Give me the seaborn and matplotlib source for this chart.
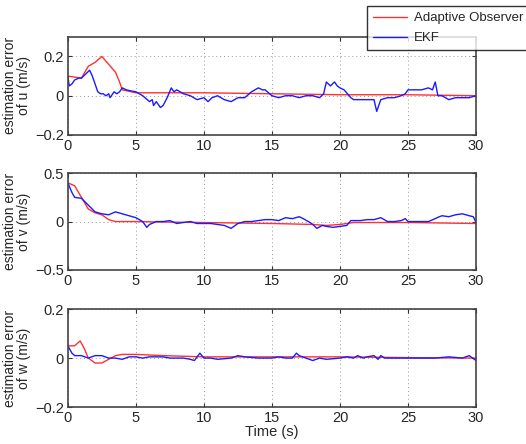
import numpy as np
import pandas as pd
import matplotlib
matplotlib.use("Agg")
import matplotlib.pyplot as plt
import seaborn as sns

sns.set_style("ticks")
plt.rcParams['font.family'] = ['Liberation Sans', 'DejaVu Sans']

# ---- data: u ----
u_ekf_t = [0, 0.1, 0.3, 0.5, 0.8, 1.0, 1.3, 1.6, 1.8, 2.0, 2.2, 2.4, 2.6, 2.8, 3.0, 3.1, 3.2, 3.4, 3.6, 3.8, 4.0, 4.3, 4.6, 5.0, 5.5, 6.0, 6.2, 6.3, 6.5, 6.8, 7.0, 7.3, 7.6, 7.8, 8.0, 8.5, 9.0, 9.5, 10.0, 10.3, 10.6, 11.0, 11.5, 12.0, 12.5, 13.0, 13.5, 14.0, 14.3, 14.5, 15.0, 15.5, 16.0, 16.5, 17.0, 17.5, 18.0, 18.5, 18.8, 19.0, 19.3, 19.6, 19.8, 20.0, 20.3, 20.8, 21.0, 21.5, 22.0, 22.5, 22.7, 23.0, 23.5, 24.0, 24.5, 24.8, 25.0, 25.5, 26.0, 26.5, 26.8, 27.0, 27.2, 27.5, 28.0, 28.5, 29.0, 29.5, 30.0]
u_ekf = [0.1, 0.05, 0.06, 0.08, 0.09, 0.09, 0.11, 0.13, 0.1, 0.06, 0.02, 0.01, 0.01, 0.0, 0.01, -0.01, 0.0, 0.02, 0.01, 0.02, 0.04, 0.03, 0.025, 0.02, 0.0, -0.03, -0.02, -0.05, -0.03, -0.06, -0.05, -0.01, 0.04, 0.02, 0.03, 0.01, 0.0, -0.02, -0.01, -0.03, -0.01, 0.0, -0.02, -0.03, -0.01, -0.01, 0.02, 0.04, 0.03, 0.03, 0.0, -0.01, 0.0, 0.0, -0.01, 0.0, 0.0, -0.01, 0.01, 0.07, 0.05, 0.07, 0.05, 0.04, 0.03, -0.01, -0.02, -0.02, -0.02, -0.02, -0.08, -0.02, -0.01, -0.01, 0.0, 0.01, 0.03, 0.03, 0.03, 0.04, 0.03, 0.07, 0.0, 0.0, -0.02, -0.01, -0.01, -0.01, 0.0]
u_obs_t = [0, 0.5, 1.0, 1.5, 2.0, 2.5, 3.0, 3.5, 3.8, 4.0, 5.0, 10.0, 15.0, 20.0, 25.0, 30.0]
u_obs = [0.1, 0.095, 0.09, 0.15, 0.17, 0.2, 0.16, 0.12, 0.07, 0.03, 0.015, 0.015, 0.01, 0.005, 0.005, 0.0]

# ---- data: v ----
v_ekf_t = [0, 0.3, 0.5, 1.0, 1.5, 2.0, 2.5, 3.0, 3.5, 4.0, 4.5, 5.0, 5.5, 5.8, 6.0, 6.5, 7.0, 7.5, 8.0, 8.5, 9.0, 9.5, 10.0, 10.5, 11.0, 11.5, 12.0, 12.5, 13.0, 13.5, 14.0, 14.5, 15.0, 15.5, 16.0, 16.5, 17.0, 17.3, 17.8, 18.0, 18.3, 18.7, 19.0, 19.5, 20.0, 20.5, 20.8, 21.0, 21.5, 22.0, 22.5, 23.0, 23.5, 24.0, 24.5, 24.8, 25.0, 25.5, 26.0, 26.5, 27.0, 27.3, 27.5, 28.0, 28.5, 29.0, 29.5, 29.8, 30.0]
v_ekf = [0.4, 0.3, 0.25, 0.24, 0.17, 0.1, 0.08, 0.07, 0.1, 0.08, 0.06, 0.04, 0.0, -0.06, -0.03, 0.0, 0.0, 0.01, -0.02, -0.01, 0.0, -0.02, -0.02, -0.02, -0.03, -0.04, -0.07, -0.02, 0.0, 0.0, 0.01, 0.02, 0.02, 0.01, 0.04, 0.03, 0.05, 0.03, -0.01, -0.03, -0.07, -0.04, -0.05, -0.06, -0.05, -0.04, 0.01, 0.01, 0.01, 0.02, 0.02, 0.04, 0.0, 0.0, 0.01, 0.03, 0.0, 0.0, 0.0, 0.0, 0.03, 0.05, 0.06, 0.05, 0.07, 0.08, 0.06, 0.05, -0.01]
v_obs_t = [0, 0.5, 1.0, 1.5, 2.0, 2.5, 3.0, 3.5, 4.0, 5.0, 7.0, 10.0, 15.0, 18.0, 19.0, 20.0, 21.0, 25.0, 30.0]
v_obs = [0.4, 0.37, 0.25, 0.13, 0.09, 0.07, 0.02, 0.0, 0.0, 0.0, -0.005, -0.01, -0.02, -0.03, -0.04, -0.03, -0.01, -0.01, -0.02]

# ---- data: w ----
w_ekf_t = [0, 0.3, 0.5, 1.0, 1.5, 2.0, 2.5, 3.0, 3.5, 4.0, 4.5, 5.0, 5.5, 6.0, 7.0, 7.5, 8.0, 8.5, 9.0, 9.3, 9.7, 10.0, 10.5, 11.0, 12.0, 12.5, 13.0, 14.0, 15.0, 15.5, 16.0, 16.5, 16.8, 17.0, 17.5, 18.0, 18.5, 19.0, 20.0, 20.5, 21.0, 21.3, 21.7, 22.0, 22.5, 22.8, 23.0, 23.3, 24.0, 25.0, 26.0, 27.0, 28.0, 29.0, 29.5, 30.0]
w_ekf = [0.05, 0.02, 0.01, 0.01, 0.0, 0.01, 0.01, 0.0, 0.0, -0.005, 0.005, 0.005, 0.0, 0.005, 0.005, 0.0, 0.0, 0.0, -0.005, -0.01, 0.02, 0.0, 0.0, -0.005, 0.0, 0.01, 0.005, 0.0, 0.0, 0.005, 0.0, 0.0, 0.02, 0.01, 0.0, -0.01, 0.0, -0.005, 0.0, 0.005, 0.0, 0.01, 0.0, 0.005, 0.01, -0.005, 0.01, 0.0, 0.0, 0.0, 0.0, 0.0, 0.005, 0.0, 0.01, -0.01]
w_obs_t = [0, 0.5, 0.9, 1.2, 1.5, 2.0, 2.5, 3.0, 3.5, 4.0, 5.0, 7.0, 10.0, 15.0, 20.0, 25.0, 30.0]
w_obs = [0.05, 0.05, 0.07, 0.04, 0.0, -0.02, -0.02, -0.005, 0.01, 0.015, 0.015, 0.01, 0.005, 0.005, 0.005, 0.002, 0.0]

series_names = ["Adaptive Observer", "EKF"]
ylabels = ["estimation error\nof u (m/s)", "estimation error\nof v (m/s)", "estimation error\nof w (m/s)"]
ylims = [(-0.2, 0.3), (-0.5, 0.5), (-0.2, 0.2)]
yticks = [[-0.2, 0, 0.2], [-0.5, 0, 0.5], [-0.2, 0, 0.2]]
xticks = [0, 5, 10, 15, 20, 25, 30]

datasets = [
    (u_obs_t, u_obs, u_ekf_t, u_ekf),
    (v_obs_t, v_obs, v_ekf_t, v_ekf),
    (w_obs_t, w_obs, w_ekf_t, w_ekf),
]

FS = 10

def fmt(v):
    if v == 0:
        return "0"
    s = f"{abs(v):g}"
    return ("\u2212" + s) if v < 0 else s

fig = plt.figure(figsize=(5.26, 4.44), dpi=100)
positions = [
    [0.129, 0.696, 0.776, 0.221],
    [0.129, 0.392, 0.776, 0.218],
    [0.129, 0.083, 0.776, 0.221],
]
palette = {"Adaptive Observer": "#ff3030", "EKF": "#1a1aff"}
axes = []
for i, (ot, ov, et, ev) in enumerate(datasets):
    ax = fig.add_axes(positions[i])
    df = pd.DataFrame({
        "t": list(ot) + list(et),
        "err": list(ov) + list(ev),
        "series": [series_names[0]] * len(ot) + [series_names[1]] * len(et),
    })
    sns.lineplot(data=df, x="t", y="err", hue="series", palette=palette,
                 ax=ax, linewidth=1.0, legend=(i == 0), estimator=None, sort=False)
    ax.set_xlim(0, 30)
    ax.set_ylim(*ylims[i])
    ax.set_xticks(xticks)
    ax.set_yticks(yticks[i])
    ax.set_yticklabels([fmt(v) for v in yticks[i]])
    ax.grid(True, linestyle=(0, (1, 3)), color="#999999", linewidth=0.7)
    ax.tick_params(direction="in", top=True, right=True, labelsize=FS + 0.5, length=3, pad=3, color="#333333")
    for s in ax.spines.values():
        s.set_linewidth(1.2)
        s.set_color("#444444")
    ax.set_ylabel(ylabels[i], fontsize=FS, labelpad=3, linespacing=1.0)
    ax.set_xlabel("")
    axes.append(ax)

axes[2].set_xlabel("Time (s)", fontsize=FS + 0.5, labelpad=0)

leg = axes[0].legend(loc="upper left", bbox_to_anchor=(367/526, 1 - 6/444), bbox_transform=fig.transFigure,
                     frameon=True, fancybox=False, fontsize=9.5, handlelength=2.6, borderpad=0.45,
                     labelspacing=0.6, handletextpad=0.5, borderaxespad=0)
leg.get_frame().set_edgecolor("black")
leg.get_frame().set_linewidth(1.0)
leg.set_title(None)

fig.savefig("out.png", dpi=100)
